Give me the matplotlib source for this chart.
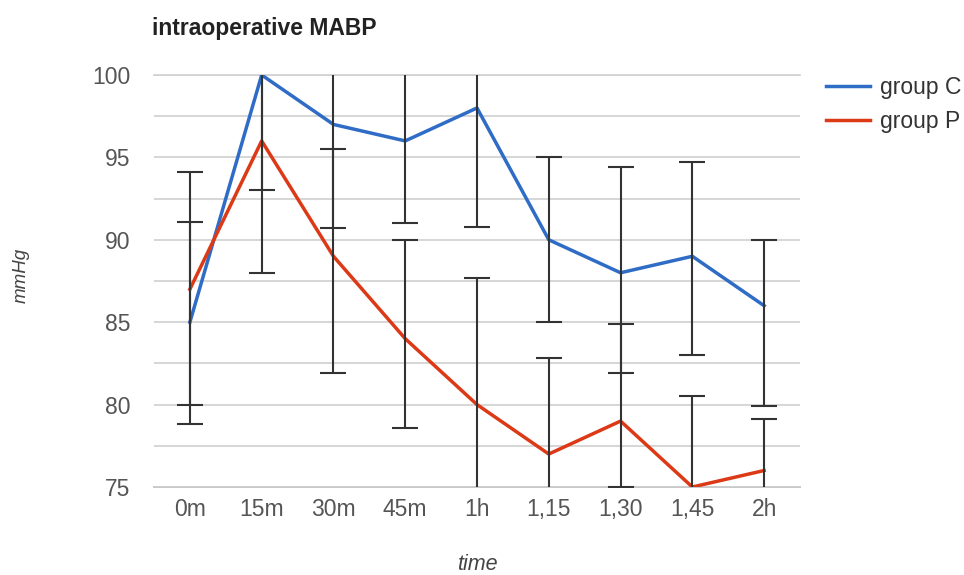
import matplotlib
matplotlib.use("Agg")
import matplotlib.pyplot as plt
import numpy as np

plt.rcParams['font.family'] = ['Liberation Sans', 'DejaVu Sans']

categories = ["0m", "15m", "30m", "45m", "1h", "1,15", "1,30", "1,45", "2h"]
c_mean = [85, 100, 97, 96, 98, 90, 88, 89, 86]
c_low = [78.8, 93.0, 90.7, 91.0, 90.8, 85.0, 81.9, 83.0, 79.9]
c_high = [91.1, 107.0, 103.3, 101.0, 105.2, 95.0, 94.4, 94.7, 90.0]
p_mean = [87, 96, 89, 84, 80, 77, 79, 75, 76]
p_low = [80.0, 88.0, 81.9, 78.6, 72.3, 71.2, 75.0, 69.5, 72.9]
p_high = [94.1, 104.0, 95.5, 90.0, 87.7, 82.8, 84.9, 80.5, 79.1]
yticks = [75, 80, 85, 90, 95, 100]

fig = plt.figure(figsize=(9.64, 5.75), dpi=100)
ax = fig.add_axes([154/964, 1-487/575, 646/964, 412/575])

x = np.arange(len(categories))
blue = "#2f6cc6"
red = "#dc3a16"
ax.plot(x, c_mean, color=blue, lw=2.5, label="group C", zorder=3)
ax.plot(x, p_mean, color=red, lw=2.5, label="group P", zorder=3)

for mean, lo, hi in [(c_mean, c_low, c_high), (p_mean, p_low, p_high)]:
    mean = np.array(mean); lo = np.array(lo); hi = np.array(hi)
    ax.errorbar(x, mean, yerr=[mean - lo, hi - mean], fmt='none', ecolor="#333333",
                elinewidth=1.5, capsize=9.3, capthick=1.5, zorder=4)

ax.set_xlim(-0.5, len(categories) - 0.5)
ax.set_ylim(75, 100)
ax.set_yticks(yticks)
ax.set_yticks(np.arange(75, 100.1, 2.5), minor=True)
ax.set_xticks(x)
ax.set_xticklabels(categories)
ax.grid(True, axis='y', which='both', color="#d0d0d0", lw=1.2, zorder=0)
ax.axhline(75, color="#c8c8c8", lw=1.4, zorder=0.5, clip_on=False)
ax.axhline(100, color="#d0d0d0", lw=1.2, zorder=0.5, clip_on=False)
for s in ax.spines.values():
    s.set_visible(False)
ax.tick_params(axis='both', which='both', length=0, colors="#555555", labelsize=16.5)
ax.tick_params(axis='y', pad=17)
ax.tick_params(axis='x', pad=8)

fig.text(152/964, 1-28/575, "intraoperative MABP", fontsize=16.5, fontweight='bold',
         color="#222222", va='center', ha='left')
fig.text(477/964, 1-565/575, "time", fontsize=15.5, style='italic', color="#444444",
         ha='center', va='center')
fig.text(21/964, 1-275/575, "mmHg", fontsize=13.5, style='italic', color="#444444",
         ha='center', va='center', rotation=90)

leg = ax.legend(loc='upper left', bbox_to_anchor=(1.0155, 1.036), frameon=False,
                fontsize=16.5, handlelength=1.9, handletextpad=0.45, labelspacing=0.45,
                labelcolor="#333333", borderaxespad=0.3)

fig.savefig("out.png", dpi=100, facecolor='white')
